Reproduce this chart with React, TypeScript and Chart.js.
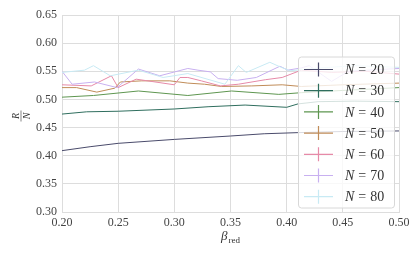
import React, { useEffect, useRef } from "react";
import { Chart, registerables } from "chart.js";

Chart.register(...registerables);

const seriesLabels = ["20", "30", "40", "50", "60", "70", "80"];
const seriesColors = ["#4a4b6b", "#2f6e5e", "#5e9650", "#c08c58", "#e68aa8", "#c8b0f0", "#c8eaf4"];

const x20 = [0.2, 0.225, 0.25, 0.3, 0.35, 0.38, 0.41, 0.45, 0.5];
const y20 = [0.409, 0.416, 0.422, 0.429, 0.435, 0.439, 0.441, 0.443, 0.444];

const x30 = [0.2, 0.222, 0.25, 0.3, 0.33, 0.363, 0.4, 0.41, 0.428, 0.46, 0.5];
const y30 = [0.474, 0.478, 0.479, 0.483, 0.487, 0.49, 0.486, 0.492, 0.496, 0.497, 0.496];

const x40 = [0.2, 0.228, 0.268, 0.312, 0.351, 0.393, 0.413, 0.45, 0.5];
const y40 = [0.504, 0.507, 0.515, 0.507, 0.515, 0.509, 0.512, 0.516, 0.521];

const x50 = [0.2, 0.213, 0.231, 0.247, 0.252, 0.271, 0.296, 0.312, 0.327, 0.342, 0.369, 0.396, 0.413, 0.45, 0.5];
const y50 = [0.521, 0.521, 0.513, 0.52, 0.531, 0.533, 0.533, 0.529, 0.527, 0.523, 0.524, 0.526, 0.523, 0.526, 0.529];

const x60 = [0.2, 0.226, 0.244, 0.25, 0.266, 0.3, 0.305, 0.312, 0.324, 0.341, 0.357, 0.381, 0.396, 0.413, 0.44, 0.47, 0.5];
const y60 = [0.526, 0.524, 0.542, 0.521, 0.536, 0.526, 0.539, 0.539, 0.533, 0.524, 0.527, 0.535, 0.539, 0.552, 0.548, 0.55, 0.545];

const x70 = [0.2, 0.209, 0.229, 0.249, 0.268, 0.287, 0.312, 0.321, 0.332, 0.339, 0.356, 0.373, 0.394, 0.401, 0.413, 0.42, 0.44, 0.455, 0.5];
const y70 = [0.55, 0.527, 0.531, 0.521, 0.554, 0.542, 0.555, 0.552, 0.549, 0.537, 0.534, 0.539, 0.559, 0.552, 0.556, 0.56, 0.532, 0.55, 0.555];

const x80 = [0.2, 0.22, 0.228, 0.243, 0.268, 0.29, 0.312, 0.345, 0.357, 0.364, 0.385, 0.394, 0.403, 0.43, 0.46, 0.5];
const y80 = [0.548, 0.552, 0.56, 0.542, 0.552, 0.539, 0.546, 0.527, 0.56, 0.548, 0.566, 0.558, 0.551, 0.556, 0.56, 0.557];

const xSeries = [x20, x30, x40, x50, x60, x70, x80];
const ySeries = [y20, y30, y40, y50, y60, y70, y80];

const xTickMin = 0.2;
const xTickMax = 0.5;
const yTickMin = 0.3;
const yTickMax = 0.65;
const tickStep = 0.05;

const SERIF = "'Liberation Serif', 'DejaVu Serif', serif";

const decorPlugin = {
  id: "decor",
  afterDraw(chart: any) {
    const ctx = chart.ctx as CanvasRenderingContext2D;
    const area = chart.chartArea;
    ctx.save();
    // y title: R/N fraction rotated
    ctx.translate(21, 116);
    ctx.rotate(-Math.PI / 2);
    ctx.fillStyle = "#333";
    ctx.font = `italic 10px ${SERIF}`;
    ctx.textAlign = "center";
    ctx.textBaseline = "alphabetic";
    ctx.fillText("R", 0, -2);
    ctx.fillText("N", 0, 8.5);
    ctx.strokeStyle = "#333";
    ctx.lineWidth = 0.6;
    ctx.beginPath();
    ctx.moveTo(-5.5, 0);
    ctx.lineTo(5.5, 0);
    ctx.stroke();
    ctx.restore();

    // x title: beta_red
    ctx.save();
    ctx.fillStyle = "#333";
    ctx.textBaseline = "alphabetic";
    ctx.textAlign = "left";
    ctx.font = `italic 13px ${SERIF}`;
    const bw = ctx.measureText("β").width;
    ctx.font = `9px ${SERIF}`;
    const rw = ctx.measureText("red").width;
    const cx = (area.left + area.right) / 2;
    const start = cx - (bw + rw + 1) / 2;
    ctx.font = `italic 13px ${SERIF}`;
    ctx.fillText("β", start, 240);
    ctx.font = `9px ${SERIF}`;
    ctx.fillText("red", start + bw + 1, 243);
    ctx.restore();

    // legend
    ctx.save();
    const bx = 298.5, by = 57, bwid = 96, bh = 151, r = 3;
    ctx.beginPath();
    ctx.moveTo(bx + r, by);
    ctx.lineTo(bx + bwid - r, by);
    ctx.arcTo(bx + bwid, by, bx + bwid, by + r, r);
    ctx.lineTo(bx + bwid, by + bh - r);
    ctx.arcTo(bx + bwid, by + bh, bx + bwid - r, by + bh, r);
    ctx.lineTo(bx + r, by + bh);
    ctx.arcTo(bx, by + bh, bx, by + bh - r, r);
    ctx.lineTo(bx, by + r);
    ctx.arcTo(bx, by, bx + r, by, r);
    ctx.closePath();
    ctx.fillStyle = "rgba(255,255,255,0.8)";
    ctx.fill();
    ctx.strokeStyle = "#d8d8d8";
    ctx.lineWidth = 1;
    ctx.stroke();

    for (let i = 0; i < seriesLabels.length; i++) {
      const yy = 69.5 + i * 21.2;
      ctx.strokeStyle = seriesColors[i];
      ctx.lineWidth = 1.2;
      ctx.beginPath();
      ctx.moveTo(304, yy);
      ctx.lineTo(333, yy);
      ctx.moveTo(318.5, yy - 7);
      ctx.lineTo(318.5, yy + 7);
      ctx.stroke();
      ctx.fillStyle = "#333";
      ctx.textBaseline = "middle";
      ctx.textAlign = "left";
      ctx.font = `italic 14px ${SERIF}`;
      ctx.fillText("N", 345, yy + 1);
      const nw = ctx.measureText("N").width;
      ctx.font = `14px ${SERIF}`;
      const ex = 345 + nw + 4;
      ctx.fillText("=", ex, yy + 1);
      const ew = ctx.measureText("=").width;
      ctx.fillText(seriesLabels[i], ex + ew + 4, yy + 1);
    }
    ctx.restore();
  },
};

export default function App() {
  const ref = useRef<HTMLCanvasElement | null>(null);
  useEffect(() => {
    document.body.style.margin = "0";
    const canvas = ref.current;
    if (!canvas) return;
    const datasets = seriesLabels.map((lab, i) => ({
      label: "N = " + lab,
      data: xSeries[i].map((x, j) => ({ x, y: ySeries[i][j] })),
      borderColor: seriesColors[i],
      backgroundColor: seriesColors[i],
      borderWidth: 1,
      pointRadius: 0,
      tension: 0,
      fill: false,
      order: seriesLabels.length - 1 - i,
    }));
    const chart = new Chart(canvas, {
      type: "line",
      data: { datasets },
      options: {
        animation: false,
        responsive: false,
        maintainAspectRatio: false,
        layout: { padding: { left: 0, top: 15, right: 16, bottom: 0 } },
        plugins: { legend: { display: false }, tooltip: { enabled: false } },
        scales: {
          x: {
            type: "linear",
            min: xTickMin,
            max: xTickMax,
            afterFit: (s: any) => { s.height = 48; },
            grid: { color: "#dddddd", lineWidth: 1, drawTicks: false },
            border: { color: "#dddddd", width: 1 },
            ticks: {
              stepSize: tickStep,
              padding: 4,
              color: "#444",
              font: { family: SERIF, size: 12 },
              callback: (v: any) => Number(v).toFixed(2),
              maxRotation: 0,
            },
          },
          y: {
            type: "linear",
            min: yTickMin,
            max: yTickMax,
            afterFit: (s: any) => { s.width = 62; },
            grid: { color: "#dddddd", lineWidth: 1, drawTicks: false },
            border: { color: "#dddddd", width: 1 },
            ticks: {
              stepSize: tickStep,
              padding: 5,
              color: "#444",
              font: { family: SERIF, size: 12 },
              callback: (v: any) => Number(v).toFixed(2),
            },
          },
        },
      },
      plugins: [decorPlugin],
    });
    return () => chart.destroy();
  }, []);
  return <canvas ref={ref} width={415} height={260} style={{ display: "block" }} />;
}
